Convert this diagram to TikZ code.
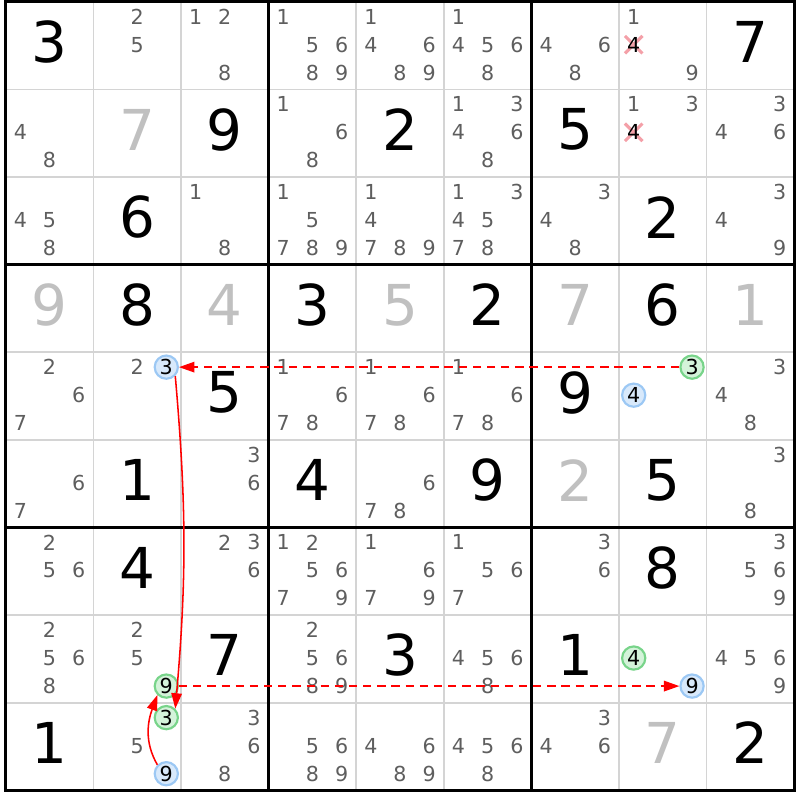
\documentclass[tikz,border=0pt]{standalone}
\usepackage{fontspec}
\setmainfont{DejaVu Sans}
\usetikzlibrary{arrows.meta}

\definecolor{candgray}{HTML}{5E5E5E}
\definecolor{solvedgray}{HTML}{C0C0C0}
\definecolor{thinline}{HTML}{D4D4D4}
\definecolor{bluefill}{HTML}{D8E9FB}
\definecolor{blueedge}{HTML}{9CC8F4}
\definecolor{greenfill}{HTML}{D4F3DA}
\definecolor{greenedge}{HTML}{78D48A}
\definecolor{elimred}{HTML}{F4A0A8}

% big digit in a cell: [style]{row}{col}{digit}
\newcommand{\cellgiven}[4][given]{\node[#1] (g-#2-#3) at ({#3-0.5},{9.54-#2}) {#4};}
% pencil marks of a cell: {row}{col}{list}
\newcommand{\cellcands}[3]{%
  \foreach \d in {#3}{%
    \pgfmathtruncatemacro{\cx}{mod(\d-1,3)}%
    \pgfmathtruncatemacro{\cy}{(\d-1)/3}%
    \node[cand] (k-#1-#2-\d) at ({#2-0.833+0.333*\cx},{9.83-#1-0.32*\cy}) {\d};
  }}
% circled pencil mark: {style}{row}{col}{digit}
\newcommand{\cellpick}[4]{%
  \pgfmathtruncatemacro{\cx}{mod(#4-1,3)}%
  \pgfmathtruncatemacro{\cy}{(#4-1)/3}%
  \node[#1] (h-#2-#3-#4) at ({#3-0.833+0.333*\cx},{9.83-#2-0.32*\cy}) {#4};}
% crossed out pencil mark: {row}{col}{digit}
\newcommand{\cellelim}[3]{%
  \pgfmathtruncatemacro{\cx}{mod(#3-1,3)}%
  \pgfmathtruncatemacro{\cy}{(#3-1)/3}%
  \coordinate (x-#1-#2) at ({#2-0.833+0.333*\cx},{9.83-#1-0.32*\cy});
  \draw[elimred, line width=1pt] (x-#1-#2) ++(-0.1,-0.1) -- ++(0.2,0.2)
    (x-#1-#2) ++(-0.1,0.1) -- ++(0.2,-0.2);
  \node[elim] (h-#1-#2-#3) at (x-#1-#2) {#3};}

\begin{document}
\begin{tikzpicture}[x=1cm,y=1cm,
  given/.style={font=\fontsize{18.3}{20}\selectfont, text=black, inner sep=0pt},
  solved/.style={given, text=solvedgray},
  cand/.style={font=\fontsize{6.7}{8}\selectfont, text=candgray, inner sep=0pt},
  elim/.style={cand, text=black},
  pick/.style={circle, minimum size=0.265cm, inner sep=0pt, line width=0.7pt,
    font=\fontsize{6.7}{8}\selectfont, text=black},
  pickon/.style={pick, draw=blueedge, fill=bluefill},
  pickoff/.style={pick, draw=greenedge, fill=greenfill},
  stronglink/.style={red, line width=0.5pt, -{Triangle[length=5pt,width=3.4pt]}},
  weaklink/.style={stronglink, dash pattern=on 2.7pt off 1.9pt}]
  \useasboundingbox (-0.065,-0.11) rectangle (9.065,9.02);
  % Thin cell lines
  \foreach \i in {1,2,4,5,7,8} {
    \draw[thinline, line width=0.5pt] (\i,0) -- (\i,9);
    \draw[thinline, line width=0.5pt] (0,\i) -- (9,\i);
  }
  % Box lines
  \foreach \i in {3,6} {
    \draw[line width=1pt] (\i,0) -- (\i,9);
    \draw[line width=1pt] (0,\i) -- (9,\i);
  }
  \draw[line width=1pt] (0,0) rectangle (9,9);
  % Row 1
  \cellgiven{1}{1}{3} \cellcands{1}{2}{2,5} \cellcands{1}{3}{1,2,8}
  \cellcands{1}{4}{1,5,6,8,9} \cellcands{1}{5}{1,4,6,8,9} \cellcands{1}{6}{1,4,5,6,8}
  \cellcands{1}{7}{4,6,8} \cellcands{1}{8}{1,9} \cellelim{1}{8}{4} \cellgiven{1}{9}{7}
  % Row 2
  \cellcands{2}{1}{4,8} \cellgiven[solved]{2}{2}{7} \cellgiven{2}{3}{9}
  \cellcands{2}{4}{1,6,8} \cellgiven{2}{5}{2} \cellcands{2}{6}{1,3,4,6,8}
  \cellgiven{2}{7}{5} \cellcands{2}{8}{1,3} \cellelim{2}{8}{4} \cellcands{2}{9}{3,4,6}
  % Row 3
  \cellcands{3}{1}{4,5,8} \cellgiven{3}{2}{6} \cellcands{3}{3}{1,8}
  \cellcands{3}{4}{1,5,7,8,9} \cellcands{3}{5}{1,4,7,8,9} \cellcands{3}{6}{1,3,4,5,7,8}
  \cellcands{3}{7}{3,4,8} \cellgiven{3}{8}{2} \cellcands{3}{9}{3,4,9}
  % Row 4
  \cellgiven[solved]{4}{1}{9} \cellgiven{4}{2}{8} \cellgiven[solved]{4}{3}{4}
  \cellgiven{4}{4}{3} \cellgiven[solved]{4}{5}{5} \cellgiven{4}{6}{2}
  \cellgiven[solved]{4}{7}{7} \cellgiven{4}{8}{6} \cellgiven[solved]{4}{9}{1}
  % Row 5
  \cellcands{5}{1}{2,6,7} \cellcands{5}{2}{2} \cellpick{pickon}{5}{2}{3} \cellgiven{5}{3}{5}
  \cellcands{5}{4}{1,6,7,8} \cellcands{5}{5}{1,6,7,8} \cellcands{5}{6}{1,6,7,8}
  \cellgiven{5}{7}{9} \cellpick{pickoff}{5}{8}{3} \cellpick{pickon}{5}{8}{4} \cellcands{5}{9}{3,4,8}
  % Row 6
  \cellcands{6}{1}{6,7} \cellgiven{6}{2}{1} \cellcands{6}{3}{3,6}
  \cellgiven{6}{4}{4} \cellcands{6}{5}{6,7,8} \cellgiven{6}{6}{9}
  \cellgiven[solved]{6}{7}{2} \cellgiven{6}{8}{5} \cellcands{6}{9}{3,8}
  % Row 7
  \cellcands{7}{1}{2,5,6} \cellgiven{7}{2}{4} \cellcands{7}{3}{2,3,6}
  \cellcands{7}{4}{1,2,5,6,7,9} \cellcands{7}{5}{1,6,7,9} \cellcands{7}{6}{1,5,6,7}
  \cellcands{7}{7}{3,6} \cellgiven{7}{8}{8} \cellcands{7}{9}{3,5,6,9}
  % Row 8
  \cellcands{8}{1}{2,5,6,8} \cellcands{8}{2}{2,5} \cellpick{pickoff}{8}{2}{9} \cellgiven{8}{3}{7}
  \cellcands{8}{4}{2,5,6,8,9} \cellgiven{8}{5}{3} \cellcands{8}{6}{4,5,6,8}
  \cellgiven{8}{7}{1} \cellpick{pickoff}{8}{8}{4} \cellpick{pickon}{8}{8}{9} \cellcands{8}{9}{4,5,6,9}
  % Row 9
  \cellgiven{9}{1}{1} \cellcands{9}{2}{5} \cellpick{pickoff}{9}{2}{3} \cellpick{pickon}{9}{2}{9}
  \cellcands{9}{3}{3,6,8} \cellcands{9}{4}{5,6,8,9} \cellcands{9}{5}{4,6,8,9}
  \cellcands{9}{6}{4,5,6,8} \cellcands{9}{7}{3,4,6} \cellgiven[solved]{9}{8}{7} \cellgiven{9}{9}{2}
  % Chain
  \draw[weaklink] (h-5-8-3) -- (h-5-2-3);
  \draw[stronglink] (h-5-2-3.-45) to[out=-85,in=85] (h-9-2-3.45);
  \draw[stronglink] (h-9-2-9.135) to[out=120,in=-110] (h-8-2-9.-135);
  \draw[weaklink] (h-8-2-9) -- (h-8-8-9);
\end{tikzpicture}
\end{document}
